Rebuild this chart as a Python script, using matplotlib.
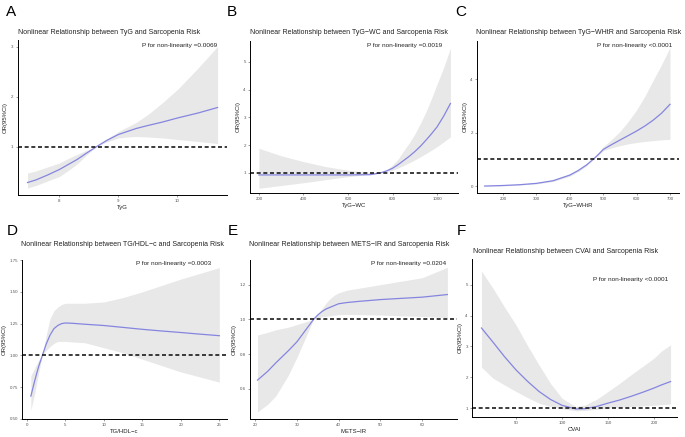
import matplotlib
matplotlib.use("Agg")
import matplotlib.pyplot as plt

plt.rcParams['font.family'] = ['Liberation Sans', 'DejaVu Sans']

W, H = 685, 437

# ---- data ----
# A: TyG
a_x = [7.46, 7.6, 7.8, 8.0, 8.15, 8.3, 8.45, 8.62, 8.8, 9.0, 9.15, 9.3, 9.5, 9.75, 10.0, 10.35, 10.68]
a_or = [0.29, 0.34, 0.44, 0.55, 0.65, 0.75, 0.87, 1.0, 1.13, 1.25, 1.31, 1.37, 1.43, 1.5, 1.58, 1.68, 1.79]
a_lo = [0.18, 0.23, 0.32, 0.41, 0.53, 0.66, 0.83, 1.0, 1.1, 1.18, 1.2, 1.21, 1.2, 1.18, 1.15, 1.11, 1.07]
a_hi = [0.48, 0.52, 0.6, 0.68, 0.77, 0.85, 0.93, 1.0, 1.16, 1.31, 1.4, 1.49, 1.65, 1.89, 2.15, 2.58, 3.01]

# B: TyG-WC
b_x = [200, 300, 400, 500, 600, 700, 745, 775, 800, 825, 850, 875, 900, 925, 950, 975, 1000, 1030, 1060]
b_or = [0.93, 0.93, 0.93, 0.93, 0.93, 0.94, 1.0, 1.08, 1.17, 1.3, 1.45, 1.6, 1.77, 1.96, 2.18, 2.41, 2.66, 3.05, 3.5]
b_lo = [0.45, 0.55, 0.65, 0.76, 0.87, 0.95, 1.0, 1.05, 1.1, 1.18, 1.27, 1.37, 1.47, 1.58, 1.7, 1.82, 1.95, 2.12, 2.3]
b_hi = [1.89, 1.62, 1.41, 1.23, 1.1, 1.01, 1.0, 1.12, 1.29, 1.5, 1.8, 2.08, 2.4, 2.78, 3.2, 3.68, 4.2, 4.8, 5.5]

# C: TyG-WHtR
c_x = [145, 200, 250, 300, 350, 400, 425, 450, 470, 487, 500, 525, 550, 575, 600, 625, 650, 675, 700]
c_or = [0.0, 0.02, 0.05, 0.1, 0.2, 0.41, 0.58, 0.79, 1.0, 1.2, 1.37, 1.55, 1.72, 1.89, 2.06, 2.25, 2.47, 2.73, 3.06]
c_lo = [0.0, 0.01, 0.04, 0.08, 0.17, 0.37, 0.54, 0.75, 1.0, 1.17, 1.32, 1.43, 1.51, 1.58, 1.63, 1.67, 1.7, 1.73, 1.75]
c_hi = [0.01, 0.03, 0.07, 0.13, 0.24, 0.46, 0.62, 0.84, 1.0, 1.25, 1.47, 1.74, 2.04, 2.42, 2.85, 3.37, 3.97, 4.55, 5.19]

# D: TG/HDL-c
d_x = [0.5, 1.0, 1.5, 2.0, 2.5, 3.0, 3.5, 4.0, 4.5, 5.0, 6.0, 7.5, 10, 12.5, 15, 17.5, 20, 22.5, 25]
d_or = [0.68, 0.80, 0.91, 1.0, 1.09, 1.16, 1.21, 1.235, 1.25, 1.255, 1.252, 1.245, 1.235, 1.22, 1.205, 1.192, 1.18, 1.167, 1.155]
d_lo = [0.57, 0.70, 0.86, 1.0, 1.04, 1.07, 1.095, 1.11, 1.11, 1.11, 1.105, 1.1, 1.06, 1.02, 0.97, 0.92, 0.87, 0.83, 0.79]
d_hi = [0.84, 0.90, 0.96, 1.0, 1.16, 1.29, 1.35, 1.38, 1.40, 1.41, 1.41, 1.41, 1.42, 1.455, 1.5, 1.55, 1.6, 1.645, 1.69]

# E: METS-IR
e_x = [20.6, 23, 25, 28, 30, 32, 34, 35, 36, 37, 38, 39, 40, 42, 45, 50, 55, 60, 66]
e_or = [0.65, 0.70, 0.75, 0.82, 0.87, 0.935, 1.0, 1.025, 1.045, 1.06, 1.07, 1.08, 1.09, 1.097, 1.104, 1.114, 1.121, 1.128, 1.143]
e_lo = [0.467, 0.51, 0.56, 0.68, 0.78, 0.89, 1.0, 1.008, 1.015, 1.018, 1.02, 1.024, 1.027, 1.028, 1.027, 1.025, 1.02, 1.017, 1.01]
e_hi = [0.91, 0.925, 0.94, 0.955, 0.97, 0.985, 1.0, 1.03, 1.06, 1.095, 1.12, 1.14, 1.153, 1.168, 1.18, 1.20, 1.22, 1.24, 1.30]

# F: CVAI
f_x = [12.5, 25, 37.5, 50, 62.5, 75, 87.5, 100, 115, 125, 137.5, 150, 162.5, 175, 187.5, 200, 208, 218]
f_or = [3.6, 3.14, 2.67, 2.24, 1.87, 1.54, 1.28, 1.09, 0.97, 0.98, 1.05, 1.16, 1.26, 1.38, 1.51, 1.65, 1.75, 1.86]
f_lo = [2.33, 1.97, 1.75, 1.54, 1.34, 1.16, 1.05, 0.98, 0.91, 0.92, 0.96, 1.0, 1.03, 1.05, 1.07, 1.09, 1.11, 1.13]
f_hi = [5.45, 4.89, 4.28, 3.7, 3.03, 2.4, 1.8, 1.32, 1.05, 1.1, 1.28, 1.54, 1.8, 2.08, 2.35, 2.62, 2.85, 3.05]

panels = [
    dict(letter="A", name="TyG", x=a_x, y=a_or, lo=a_lo, hi=a_hi, p="=0.0069",
         box=(17.5, 40, 227, 195), xlim=(7.29, 10.84), ylim=(0.04, 3.14),
         xt=[8, 9, 10], yt=[1, 2, 3], ytl=["1", "2", "3"],
         letter_xy=(6, 12), title_xy=(18, 32), p_xy=(217, 46)),
    dict(letter="B", name="TyG\u2212WC", x=b_x, y=b_or, lo=b_lo, hi=b_hi, p="=0.0019",
         box=(250, 41, 458, 193), xlim=(160, 1094), ylim=(0.28, 5.75),
         xt=[200, 400, 600, 800, 1000], yt=[1, 2, 3, 4, 5], ytl=["1", "2", "3", "4", "5"],
         letter_xy=(227, 12), title_xy=(250, 33), p_xy=(442, 46)),
    dict(letter="C", name="TyG\u2212WHtR", x=c_x, y=c_or, lo=c_lo, hi=c_hi, p="<0.0001",
         box=(477, 41, 679, 193), xlim=(122, 727), ylim=(-0.26, 5.43),
         xt=[200, 300, 400, 500, 600, 700], yt=[0, 2, 4], ytl=["0", "2", "4"],
         letter_xy=(455, 12), title_xy=(476, 33), p_xy=(672, 46)),
    dict(letter="D", name="TG/HDL\u2212c", x=d_x, y=d_or, lo=d_lo, hi=d_hi, p="=0.0003",
         box=(22, 260, 227, 419), xlim=(-0.65, 26.0), ylim=(0.5, 1.75),
         xt=[0, 5, 10, 15, 20, 25], yt=[0.5, 0.75, 1.0, 1.25, 1.5, 1.75],
         ytl=["0.50", "0.75", "1.00", "1.25", "1.50", "1.75"],
         letter_xy=(7, 231), title_xy=(21, 244), p_xy=(211, 263)),
    dict(letter="E", name="METS\u2212IR", x=e_x, y=e_or, lo=e_lo, hi=e_hi, p="=0.0204",
         box=(250, 260, 457, 419), xlim=(18.8, 68.3), ylim=(0.426, 1.342),
         xt=[20, 30, 40, 50, 60], yt=[0.6, 0.8, 1.0, 1.2], ytl=["0.6", "0.8", "1.0", "1.2"],
         letter_xy=(228, 231), title_xy=(249, 245), p_xy=(446, 264)),
    dict(letter="F", name="CVAI", x=f_x, y=f_or, lo=f_lo, hi=f_hi, p="<0.0001",
         box=(472, 259, 677, 417), xlim=(2.2, 225), ylim=(0.71, 5.84),
         xt=[50, 100, 150, 200], yt=[1, 2, 3, 4, 5], ytl=["1", "2", "3", "4", "5"],
         letter_xy=(457, 231), title_xy=(473, 251), p_xy=(668, 279)),
]

fig = plt.figure(figsize=(W / 100, H / 100), dpi=100)


def fx(x):
    return x / W


def fy(y):
    return 1 - y / H


for pn in panels:
    x0, y0, x1, y1 = pn["box"]
    ax = fig.add_axes([fx(x0), fy(y1), (x1 - x0) / W, (y1 - y0) / H])
    ax.fill_between(pn["x"], pn["lo"], pn["hi"], color="#e8e8e8", lw=0)
    ax.plot(pn["x"], pn["y"], color="#8585e0", lw=0.9)
    ax.axhline(1, color="#1a1a1a", lw=1.2, ls=(0, (2.4, 1.6)))
    ax.set_xlim(pn["xlim"])
    ax.set_ylim(pn["ylim"])
    ax.set_xticks(pn["xt"])
    ax.set_yticks(pn["yt"])
    ax.set_yticklabels(pn["ytl"])
    for s in ["top", "right"]:
        ax.spines[s].set_visible(False)
    for s in ["left", "bottom"]:
        ax.spines[s].set_linewidth(0.7)
    ax.tick_params(labelsize=3.2, labelcolor="#555555", length=1.5, width=0.4,
                   pad=1.5, color="#555555")
    ax.set_xlabel(pn["name"], fontsize=4.3, labelpad=1.5, color="#222222")
    ax.set_ylabel("OR(95%CI)", fontsize=4.3, labelpad=2, color="#222222")
    ax.patch.set_alpha(0)

    fig.text(fx(pn["letter_xy"][0]), fy(pn["letter_xy"][1]), pn["letter"],
             fontsize=11, ha="left", va="center")
    fig.text(fx(pn["title_xy"][0]), fy(pn["title_xy"][1]),
             "Nonlinear Relationship between %s and Sarcopenia Risk" % pn["name"],
             fontsize=5, ha="left", va="center", color="#222222")
    fig.text(fx(pn["p_xy"][0]), fy(pn["p_xy"][1]),
             "P for non-linearity " + pn["p"],
             fontsize=4.6, ha="right", va="center", color="#222222")

fig.savefig("out.png", dpi=100)
